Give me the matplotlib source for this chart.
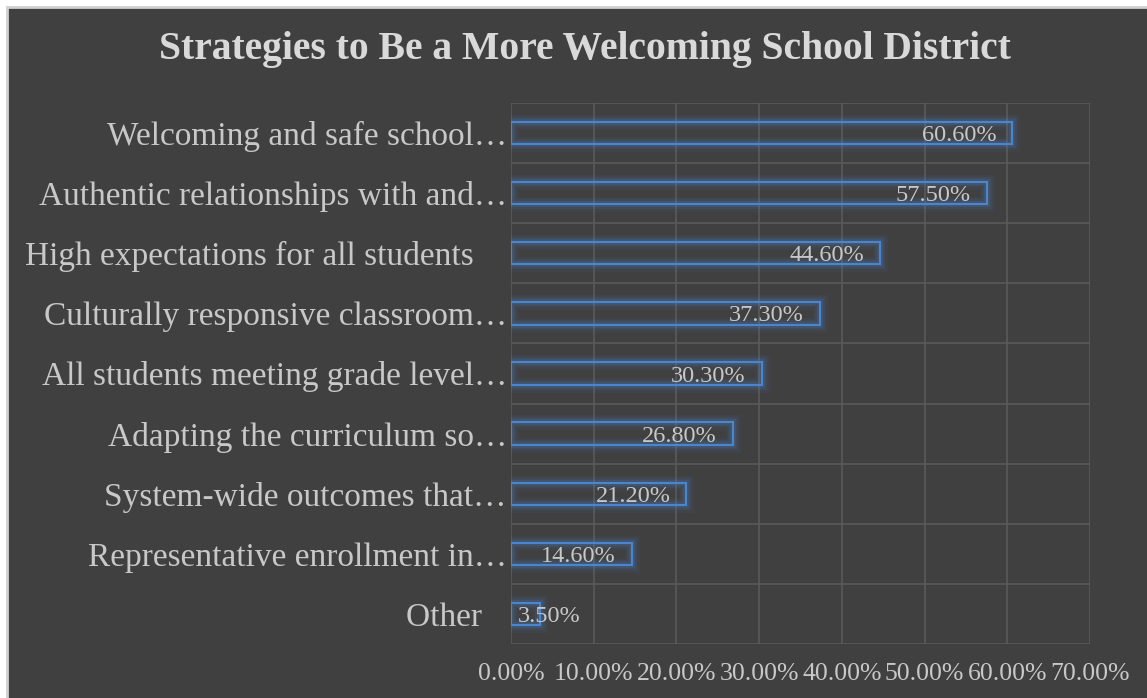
import matplotlib.pyplot as plt
from matplotlib.patches import Rectangle

categories = ["Welcoming and safe school\u2026",
              "Authentic relationships with and\u2026",
              "High expectations for all students    ",
              "Culturally responsive classroom\u2026",
              "All students meeting grade level\u2026",
              "Adapting the curriculum so\u2026",
              "System-wide outcomes that\u2026",
              "Representative enrollment in\u2026",
              "Other   "]
values = [60.6, 57.5, 44.6, 37.3, 30.3, 26.8, 21.2, 14.6, 3.5]
xticks = [0, 10, 20, 30, 40, 50, 60, 70]

bg = '#404040'
txt = '#c8c8c8'
blue = '#4a86d0'
font = 'Liberation Serif'

fig = plt.figure(figsize=(11.47, 6.98), dpi=100, facecolor='white')
fig.patches.append(Rectangle((7/1147, -0.1), 1.2, 1.1 - 7/698, transform=fig.transFigure,
                             facecolor=bg, edgecolor='#d0d0d0', linewidth=2, zorder=-1))

ax = fig.add_axes([511/1147, 1 - 644/698, 579/1147, 541/698])
ax.set_facecolor(bg)
ax.patch.set_alpha(0)

y = list(range(len(categories)))
# glow
for lw, a in [(11, 0.07), (7.5, 0.1), (4.5, 0.18)]:
    ax.barh(y, values, height=0.37, facecolor='none', edgecolor=blue, linewidth=lw, alpha=a, zorder=2)
ax.barh(y, values, height=0.37, facecolor='none', edgecolor=blue, linewidth=1.5, zorder=3)

for yi, v in zip(y, values):
    if v < 5:
        ax.text(0.8, yi, f"{v:.2f}%", ha='left', va='center_baseline', color=txt, fontsize=17.5, family=font, zorder=4)
    else:
        ax.text(v - 1.9, yi, f"{v:.2f}%", ha='right', va='center_baseline', color=txt, fontsize=17.5, family=font, zorder=4)

ax.set_xlim(0, 70)
ax.set_ylim(len(categories) - 0.5, -0.5)
ax.set_xticks(xticks)
ax.set_xticklabels([f"{t:.2f}%" for t in xticks], family=font, fontsize=18.5, color=txt)
ax.set_yticks(y)
ax.set_yticklabels(categories, family=font, fontsize=24, color=txt)
ax.tick_params(length=0)
ax.tick_params(axis='x', pad=14)
ax.tick_params(axis='y', pad=3)

for t in xticks:
    ax.axvline(t, color='#5a5a5a', linewidth=1.2, zorder=1)
for b in range(len(categories) + 1):
    ax.axhline(b - 0.5, color='#5a5a5a', linewidth=1.2, zorder=1)
for s in ax.spines.values():
    s.set_visible(False)

fig.text(585/1147, 1 - 50/698, "Strategies to Be a More Welcoming School District",
         ha='center', va='center', fontsize=28.5, fontweight='bold', color='#d9d9d9', family=font)

fig.savefig('out.png', dpi=100, facecolor=fig.get_facecolor())
